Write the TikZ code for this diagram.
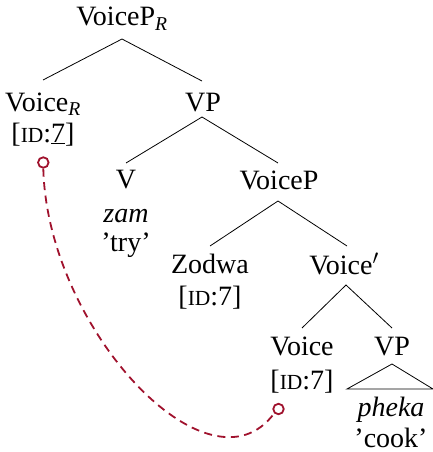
\documentclass[tikz,border=0pt]{standalone}
\usepackage{fontspec}
\setmainfont{Liberation Serif}
\usetikzlibrary{calc}
\definecolor{linkred}{HTML}{A0122D}
\newcommand{\idsc}{{\fontsize{21.5}{22}\selectfont ID}}
\begin{document}
\begin{tikzpicture}[x=1pt,y=-1pt,
  lbl/.style={anchor=base,inner sep=0pt,font=\fontsize{28}{32}\selectfont},
  branch/.style={line width=0.8pt,black},
  linkend/.style={circle,draw=linkred,line width=1.8pt,minimum size=10.5pt,inner sep=0pt},
  link/.style={draw=linkred,line width=1.8pt,dash pattern=on 8pt off 5.5pt}]
\useasboundingbox (0,0) rectangle (433,452);

% labels
\node[lbl] (vpr) at (122,26) {VoiceP\textsubscript{\textit{R}}};
\node[lbl] (vr) at (43,111) {Voice\textsubscript{\textit{R}}};
\node[lbl] (vrid) at (43,142) {[\idsc:\underline{7}]};
\node[lbl] (vpa) at (203,111) {VP};
\node[lbl] (v) at (126,188) {V};
\node[lbl] (zam) at (126,222) {\textit{zam}};
\node[lbl] (try) at (126,251) {'try'};
\node[lbl] (vpb) at (279,189) {VoiceP};
\node[lbl] (zod) at (210,273) {Zodwa};
\node[lbl] (zodid) at (210,305) {[\idsc:7]};
\node[lbl] (vbar) at (344,274) {Voice$'$};
\node[lbl] (voice) at (302,355) {Voice};
\node[lbl] (voiceid) at (302,389) {[\idsc:7]};
\node[lbl] (vpc) at (392,355) {VP};
\node[lbl] (pheka) at (391,416) {\textit{pheka}};
\node[lbl] (cook) at (391,447) {'cook'};

% branches
\draw[branch] ([yshift=31pt]vr.base) -- ([yshift=-13pt]vpr.base) -- ([xshift=-1pt,yshift=30pt]vpa.base);
\draw[branch] ([yshift=25pt]v.base) -- ([xshift=-1pt,yshift=-6pt]vpa.base) -- ([xshift=-1pt,yshift=26pt]vpb.base);
\draw[branch] ([yshift=27pt]zod.base) -- ([xshift=-1pt,yshift=-12pt]vpb.base) -- ([xshift=3pt,yshift=28pt]vbar.base);
\draw[branch] ([yshift=27pt]voice.base) -- ([xshift=2pt,yshift=-11pt]vbar.base) -- ([yshift=27pt]vpc.base);
% triangle over the VP
\draw[branch] ([yshift=-9pt]vpc.base) -- ([xshift=-45pt,yshift=-34pt]vpc.base) -- ([xshift=41pt,yshift=-34pt]vpc.base) -- cycle;

% dashed link between the two Voice heads
\node[linkend] (la) at (43.3,162.5) {};
\node[linkend] (lb) at (278.5,409) {};
\draw[link] (la.south) .. controls +(4,160) and +(-65,88) .. (lb.south west);
\end{tikzpicture}
\end{document}
